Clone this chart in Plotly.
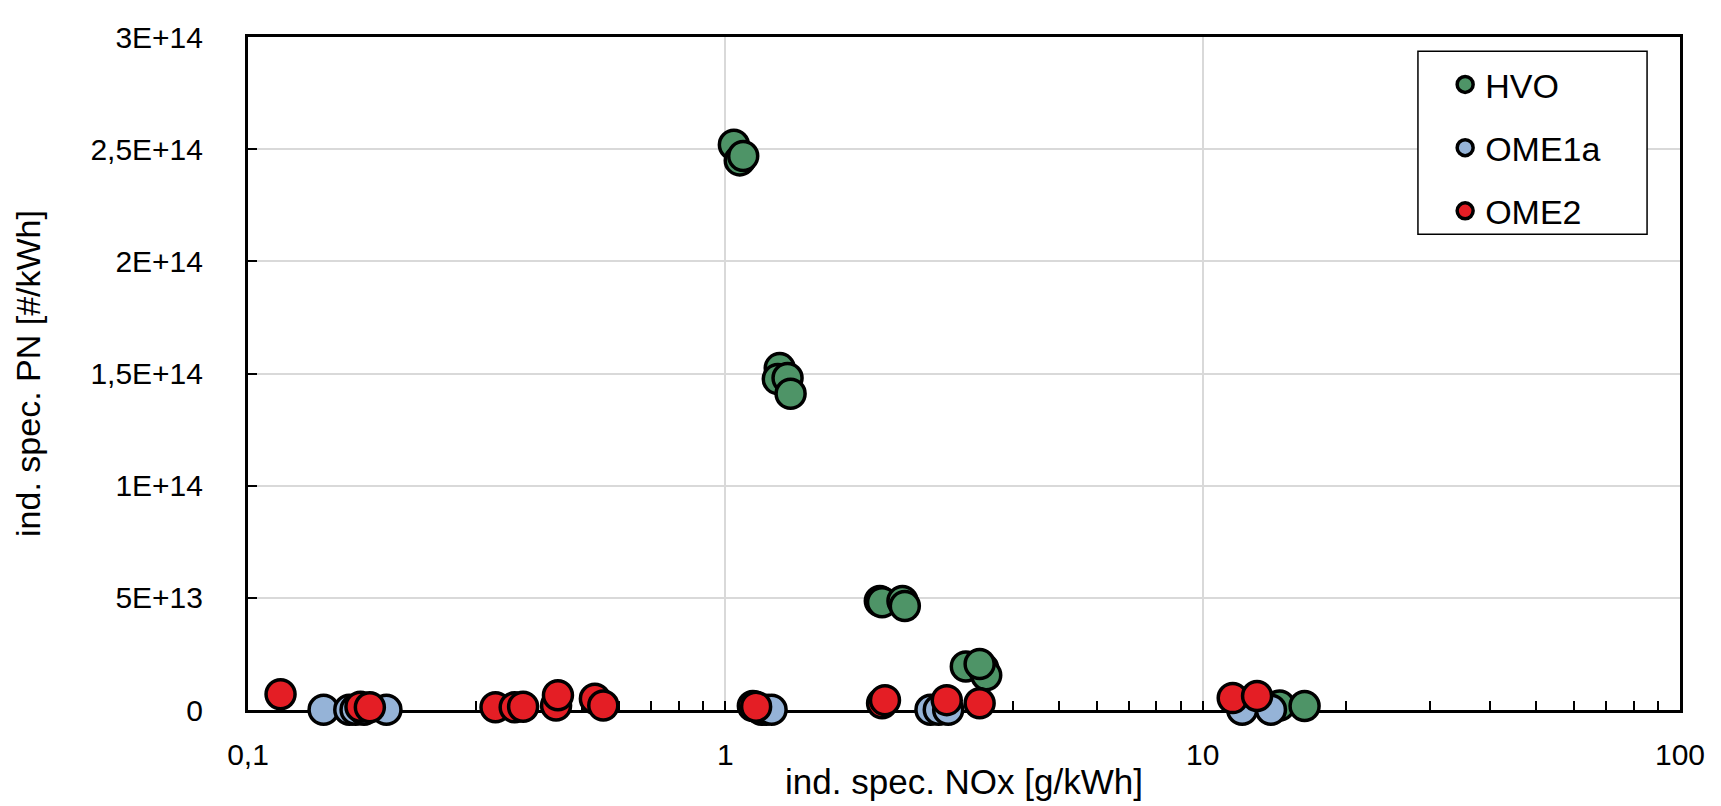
import plotly.graph_objects as go

# ---- data ----
hvo_nox = [1.042, 1.072, 1.09, 1.30, 1.288, 1.35, 1.37, 2.107, 2.13, 2.35, 2.377, 3.19, 3.47, 3.52, 3.41, 14.5, 16.35]
hvo_pn = [2.52e14, 2.45e14, 2.47e14, 1.524e14, 1.475e14, 1.48e14, 1.41e14, 4.86e13, 4.8e13, 4.86e13, 4.64e13, 1.94e13, 1.85e13, 1.55e13, 2.05e13, 2.0e12, 1.8e12]

ome1a_nox = [0.144, 0.163, 0.168, 0.175, 0.195, 1.19, 1.217, 1.25, 2.69, 2.8, 2.93, 12.1, 13.9]
ome1a_pn = [1e11, 1e11, 1e11, 1e11, 1e11, 1e11, 1e11, 1e11, 1e11, 1e11, 1e11, 1e11, 1e11]

ome2_nox = [0.117, 0.172, 0.180, 0.330, 0.362, 0.377, 0.442, 0.446, 0.533, 0.555, 1.142, 1.16, 2.13, 2.16, 2.91, 3.41, 11.56, 13.0]
ome2_pn = [7e12, 1.5e12, 1.2e12, 1.2e12, 1.2e12, 1.5e12, 2e12, 6.6e12, 5e12, 2e12, 1.8e12, 1.5e12, 3e12, 4.4e12, 4.4e12, 3e12, 5.3e12, 6.2e12]

series_names = ["HVO", "OME1a", "OME2"]
series_colors = ["#4E9467", "#95B3D7", "#E41E25"]

x_tickvals = [0.1, 1, 10, 100]
x_ticktext = ["0,1", "1", "10", "100"]
y_tickvals = [0, 5e13, 1e14, 1.5e14, 2e14, 2.5e14, 3e14]
y_ticktext = ["0", "5E+13", "1E+14", "1,5E+14", "2E+14", "2,5E+14", "3E+14"]

fig = go.Figure()
for name, xs, ys, col in zip(series_names, [hvo_nox, ome1a_nox, ome2_nox],
                             [hvo_pn, ome1a_pn, ome2_pn], series_colors):
    fig.add_trace(go.Scatter(
        x=xs, y=ys, mode="markers", name=name, legendgroup=name, cliponaxis=False,
        marker=dict(size=29, color=col, line=dict(color="black", width=3.5)),
    ))

FONT = "Liberation Sans, Arial, sans-serif"
tick_font = dict(family=FONT, size=30, color="black")

# legend frame (white box with thin black border)
fig.add_shape(type="rect", xref="paper", yref="paper",
              x0=0.817, x1=0.977, y0=0.707, y1=0.979,
              line=dict(color="black", width=1.5), fillcolor="white", layer="above")

fig.update_layout(
    width=1721, height=806,
    margin=dict(l=240, r=49, t=23, b=104),
    paper_bgcolor="white", plot_bgcolor="white",
    showlegend=True,
    legend=dict(
        x=0.836, y=0.972, xanchor="left", yanchor="top",
        bgcolor="rgba(0,0,0,0)", borderwidth=0,
        font=dict(family=FONT, size=34, color="black"),
        itemsizing="trace", tracegroupgap=16, itemwidth=30,
    ),
    xaxis=dict(
        type="log", range=[-1, 2],
        tickvals=x_tickvals, ticktext=x_ticktext,
        ticks="inside", ticklen=9, tickwidth=2, tickcolor="black",
        showgrid=True, gridcolor="#D9D9D9", gridwidth=2,
        showline=True, linecolor="black", linewidth=3, mirror=True,
        zeroline=False, layer="below traces",
        tickfont=tick_font, ticklabelstandoff=16,
        minor=dict(ticks="inside", ticklen=9, tickwidth=2, tickcolor="black",
                   showgrid=False, dtick="D1"),
        title=dict(text="ind. spec. NOx [g/kWh]", font=dict(family=FONT, size=35, color="black"), standoff=0),
    ),
    yaxis=dict(
        range=[0, 3e14],
        tickvals=y_tickvals, ticktext=y_ticktext,
        ticks="inside", ticklen=9, tickwidth=2, tickcolor="black",
        showgrid=True, gridcolor="#D9D9D9", gridwidth=2,
        showline=True, linecolor="black", linewidth=3, mirror=True,
        zeroline=False, layer="below traces",
        tickfont=tick_font, ticklabelstandoff=36,
        title=dict(text="ind. spec. PN [#/kWh]", font=dict(family=FONT, size=34, color="black"), standoff=40),
    ),
)

fig.write_html("out.html")
